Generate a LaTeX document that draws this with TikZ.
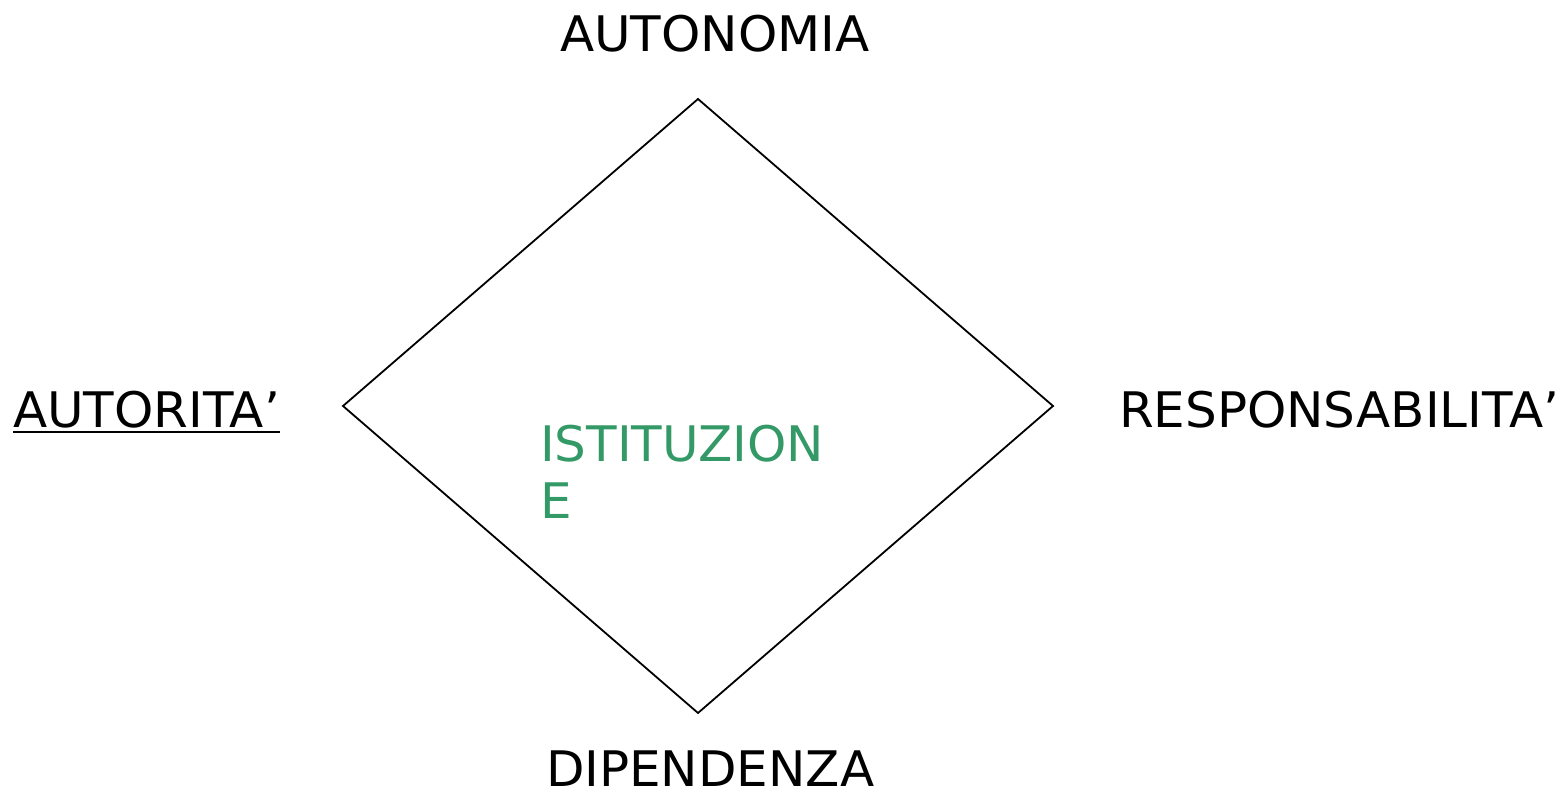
\documentclass[tikz,border=0pt]{standalone}
\usepackage{fontspec}
\setmainfont{DejaVu Sans}[FakeStretch=1.02]
\definecolor{istgreen}{HTML}{339966}
\begin{document}
\begin{tikzpicture}[x=1pt,y=1pt,
  lbl/.style={anchor=base west,inner sep=0pt,outer sep=0pt,font=\fontsize{49}{57}\selectfont}]
\useasboundingbox (0,0) rectangle (1563,794);
\coordinate (top) at (698,695);
\coordinate (left) at (343,388);
\coordinate (right) at (1053,388);
\coordinate (bottom) at (698,81);
\draw[line width=1.8pt] (top) -- (right) -- (bottom) -- (left) -- cycle;
\node[lbl] (auton) at (560,742) {AUTONOMIA};
\node[lbl] (autor) at (13,366) {AUTORITA’};
\draw[line width=2.2pt] ([yshift=-4pt]autor.base west) -- ([yshift=-4pt]autor.base east);
\node[lbl] (resp) at (1119,366) {RESPONSABILITA’};
\node[lbl,text=istgreen] (ist) at (540,332) {ISTITUZION};
\node[lbl,text=istgreen] (iste) at (540,275) {E};
\node[lbl] (dip) at (546,7) {DIPENDENZA};
\end{tikzpicture}
\end{document}
